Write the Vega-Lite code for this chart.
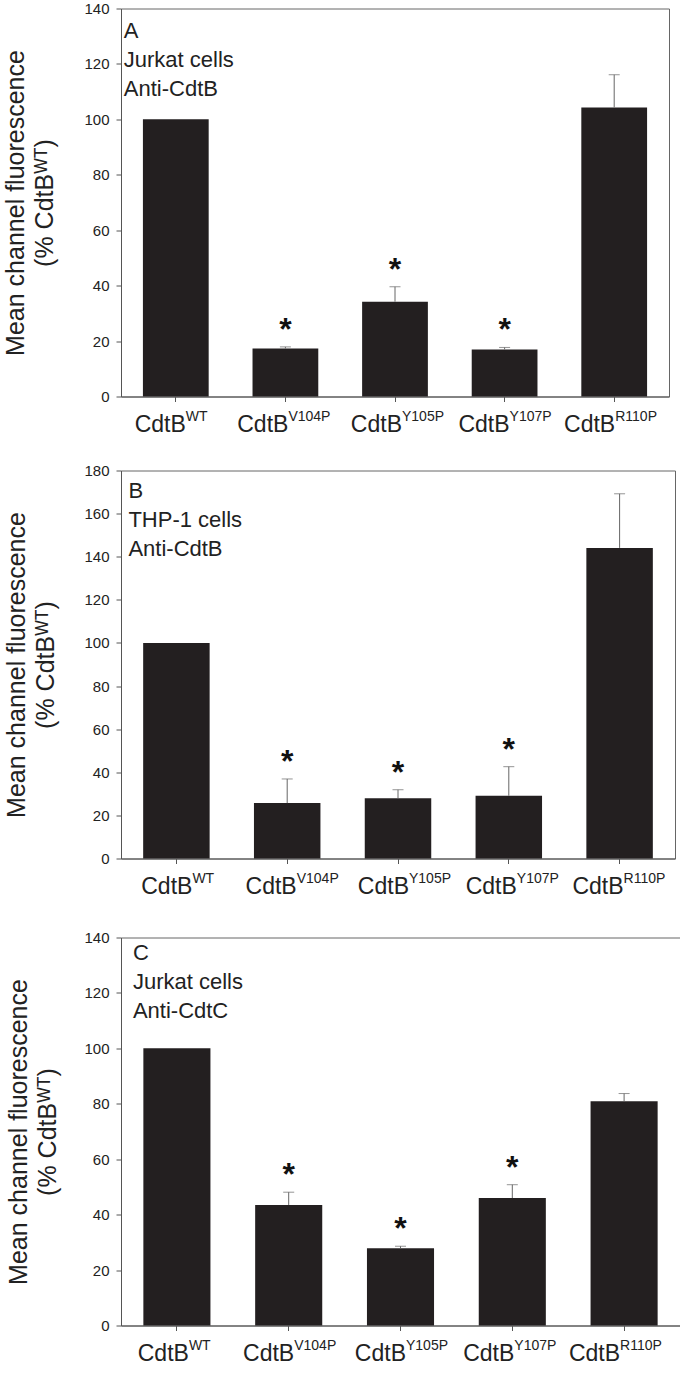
{
  "$schema": "https://vega.github.io/schema/vega-lite/v6.json",
  "padding": {"left": 2, "top": 0.5, "right": 0, "bottom": 0},
  "background": "white",
  "datasets": {
    "bars": [
      {"panel": "A", "protein": "CdtB", "mutant": "WT", "mean": 100, "upper": null, "sig": false},
      {"panel": "A", "protein": "CdtB", "mutant": "V104P", "mean": 17.3, "upper": 17.9, "sig": true},
      {"panel": "A", "protein": "CdtB", "mutant": "Y105P", "mean": 34.2, "upper": 39.6, "sig": true},
      {"panel": "A", "protein": "CdtB", "mutant": "Y107P", "mean": 17.0, "upper": 17.7, "sig": true},
      {"panel": "A", "protein": "CdtB", "mutant": "R110P", "mean": 104.3, "upper": 116.1, "sig": false},
      {"panel": "B", "protein": "CdtB", "mutant": "WT", "mean": 100, "upper": null, "sig": false},
      {"panel": "B", "protein": "CdtB", "mutant": "V104P", "mean": 25.7, "upper": 36.9, "sig": true},
      {"panel": "B", "protein": "CdtB", "mutant": "Y105P", "mean": 28.0, "upper": 31.9, "sig": true},
      {"panel": "B", "protein": "CdtB", "mutant": "Y107P", "mean": 29.1, "upper": 42.6, "sig": true},
      {"panel": "B", "protein": "CdtB", "mutant": "R110P", "mean": 144.1, "upper": 169.2, "sig": false},
      {"panel": "C", "protein": "CdtB", "mutant": "WT", "mean": 100, "upper": null, "sig": false},
      {"panel": "C", "protein": "CdtB", "mutant": "V104P", "mean": 43.5, "upper": 48.1, "sig": true},
      {"panel": "C", "protein": "CdtB", "mutant": "Y105P", "mean": 27.9, "upper": 28.6, "sig": true},
      {"panel": "C", "protein": "CdtB", "mutant": "Y107P", "mean": 46.0, "upper": 50.8, "sig": true},
      {"panel": "C", "protein": "CdtB", "mutant": "R110P", "mean": 80.9, "upper": 83.7, "sig": false}
    ]
  },
  "spacing": 25,
  "vconcat": [
    {
      "width": 548, "height": 388,
      "encoding": {"x": {"field": "mutant", "type": "nominal", "scale": {"domain": ["WT", "V104P", "Y105P", "Y107P", "R110P"], "paddingInner": 0.4, "paddingOuter": 0.2}, "axis": {"labels": false, "title": null}}},
      "layer": [
        {"data": {"name": "bars"}, "transform": [{"filter": "datum.panel === 'A'"}],
         "mark": {"type": "bar", "color": "#231f20"},
         "encoding": {"y": {"field": "mean", "type": "quantitative", "scale": {"domain": [0, 140], "nice": false}, "axis": {"values": [0, 20, 40, 60, 80, 100, 120, 140], "title": ["Mean channel fluorescence", "(% CdtBᵂᵀ)"], "titlePadding": 26.5}}}},
        {"data": {"name": "bars"}, "transform": [{"filter": "datum.panel === 'A' && datum.upper != null"}],
         "mark": {"type": "rule", "color": "#666", "strokeWidth": 1},
         "encoding": {"y": {"field": "mean", "type": "quantitative"}, "y2": {"field": "upper"}}},
        {"data": {"name": "bars"}, "transform": [{"filter": "datum.panel === 'A' && datum.upper != null"}],
         "mark": {"type": "tick", "color": "#666", "thickness": 1, "size": 11},
         "encoding": {"y": {"field": "upper", "type": "quantitative"}}},
        {"data": {"name": "bars"}, "transform": [{"filter": "datum.panel === 'A' && datum.sig"}],
         "mark": {"type": "text", "text": "*", "fontSize": 32, "fontWeight": "bold", "baseline": "middle", "dy": -17, "color": "#111"},
         "encoding": {"y": {"field": "upper", "type": "quantitative"}}},
        {"data": {"name": "bars"}, "transform": [{"filter": "datum.panel === 'A'"}],
         "mark": {"type": "text", "align": "right", "baseline": "alphabetic", "fontSize": 23, "dy": 35, "color": "#222", "dx": {"expr": "datum.mutant === 'WT' ? 10 : datum.mutant === 'V104P' ? 3 : datum.mutant === 'Y105P' ? 7 : datum.mutant === 'Y107P' ? 5 : 1"}},
         "encoding": {"y": {"datum": 0, "type": "quantitative"}, "text": {"field": "protein"}}},
        {"data": {"name": "bars"}, "transform": [{"filter": "datum.panel === 'A'"}],
         "mark": {"type": "text", "align": "left", "baseline": "alphabetic", "fontSize": 14, "dy": 24, "color": "#222", "dx": {"expr": "datum.mutant === 'WT' ? 10 : datum.mutant === 'V104P' ? 3 : datum.mutant === 'Y105P' ? 7 : datum.mutant === 'Y107P' ? 5 : 1"}},
         "encoding": {"y": {"datum": 0, "type": "quantitative"}, "text": {"field": "mutant"}}},
        {"data": {"values": [{"panel": "A"}]},
         "mark": {"type": "text", "text": ["A", "Jurkat cells", "Anti-CdtB"], "align": "left", "baseline": "alphabetic", "fontSize": 22, "lineHeight": 29.3, "dx": -52, "dy": 29, "color": "#222"},
         "encoding": {"x": {"datum": "WT", "type": "nominal"}, "y": {"datum": 140, "type": "quantitative"}}}
      ]
    },
    {
      "spacing": 30,
      "vconcat": [
        {
          "width": 554, "height": 388,
          "encoding": {"x": {"field": "mutant", "type": "nominal", "scale": {"domain": ["WT", "V104P", "Y105P", "Y107P", "R110P"], "paddingInner": 0.4, "paddingOuter": 0.2}, "axis": {"labels": false, "title": null}}},
          "layer": [
            {"data": {"name": "bars"}, "transform": [{"filter": "datum.panel === 'B'"}],
             "mark": {"type": "bar", "color": "#231f20"},
             "encoding": {"y": {"field": "mean", "type": "quantitative", "scale": {"domain": [0, 180], "nice": false}, "axis": {"values": [0, 20, 40, 60, 80, 100, 120, 140, 160, 180], "title": ["Mean channel fluorescence", "(% CdtBᵂᵀ)"], "titlePadding": 25.5}}}},
            {"data": {"name": "bars"}, "transform": [{"filter": "datum.panel === 'B' && datum.upper != null"}],
             "mark": {"type": "rule", "color": "#666", "strokeWidth": 1},
             "encoding": {"y": {"field": "mean", "type": "quantitative"}, "y2": {"field": "upper"}}},
            {"data": {"name": "bars"}, "transform": [{"filter": "datum.panel === 'B' && datum.upper != null"}],
             "mark": {"type": "tick", "color": "#666", "thickness": 1, "size": 11},
             "encoding": {"y": {"field": "upper", "type": "quantitative"}}},
            {"data": {"name": "bars"}, "transform": [{"filter": "datum.panel === 'B' && datum.sig"}],
             "mark": {"type": "text", "text": "*", "fontSize": 32, "fontWeight": "bold", "baseline": "middle", "dy": -17, "color": "#111"},
             "encoding": {"y": {"field": "upper", "type": "quantitative"}}},
            {"data": {"name": "bars"}, "transform": [{"filter": "datum.panel === 'B'"}],
             "mark": {"type": "text", "align": "right", "baseline": "alphabetic", "fontSize": 23, "dy": 35, "color": "#222", "dx": {"expr": "datum.mutant === 'WT' ? 16 : datum.mutant === 'V104P' ? 9.5 : datum.mutant === 'Y105P' ? 11 : datum.mutant === 'Y107P' ? 8 : 4"}},
             "encoding": {"y": {"datum": 0, "type": "quantitative"}, "text": {"field": "protein"}}},
            {"data": {"name": "bars"}, "transform": [{"filter": "datum.panel === 'B'"}],
             "mark": {"type": "text", "align": "left", "baseline": "alphabetic", "fontSize": 14, "dy": 24, "color": "#222", "dx": {"expr": "datum.mutant === 'WT' ? 16 : datum.mutant === 'V104P' ? 9.5 : datum.mutant === 'Y105P' ? 11 : datum.mutant === 'Y107P' ? 8 : 4"}},
             "encoding": {"y": {"datum": 0, "type": "quantitative"}, "text": {"field": "mutant"}}},
            {"data": {"values": [{"panel": "B"}]},
             "mark": {"type": "text", "text": ["B", "THP-1 cells", "Anti-CdtB"], "align": "left", "baseline": "alphabetic", "fontSize": 22, "lineHeight": 29.3, "dx": -48, "dy": 27, "color": "#222"},
             "encoding": {"x": {"datum": "WT", "type": "nominal"}, "y": {"datum": 180, "type": "quantitative"}}}
          ]
        },
        {
          "width": 559, "height": 388,
          "encoding": {"x": {"field": "mutant", "type": "nominal", "scale": {"domain": ["WT", "V104P", "Y105P", "Y107P", "R110P"], "paddingInner": 0.4, "paddingOuter": 0.2}, "axis": {"labels": false, "title": null}}},
          "layer": [
            {"data": {"name": "bars"}, "transform": [{"filter": "datum.panel === 'C'"}],
             "mark": {"type": "bar", "color": "#231f20"},
             "encoding": {"y": {"field": "mean", "type": "quantitative", "scale": {"domain": [0, 140], "nice": false}, "axis": {"values": [0, 20, 40, 60, 80, 100, 120, 140], "title": ["Mean channel fluorescence", "(% CdtBᵂᵀ)"], "titlePadding": 23.5}}}},
            {"data": {"name": "bars"}, "transform": [{"filter": "datum.panel === 'C' && datum.upper != null"}],
             "mark": {"type": "rule", "color": "#666", "strokeWidth": 1},
             "encoding": {"y": {"field": "mean", "type": "quantitative"}, "y2": {"field": "upper"}}},
            {"data": {"name": "bars"}, "transform": [{"filter": "datum.panel === 'C' && datum.upper != null"}],
             "mark": {"type": "tick", "color": "#666", "thickness": 1, "size": 11},
             "encoding": {"y": {"field": "upper", "type": "quantitative"}}},
            {"data": {"name": "bars"}, "transform": [{"filter": "datum.panel === 'C' && datum.sig"}],
             "mark": {"type": "text", "text": "*", "fontSize": 32, "fontWeight": "bold", "baseline": "middle", "dy": -17, "color": "#111"},
             "encoding": {"y": {"field": "upper", "type": "quantitative"}}},
            {"data": {"name": "bars"}, "transform": [{"filter": "datum.panel === 'C'"}],
             "mark": {"type": "text", "align": "right", "baseline": "alphabetic", "fontSize": 23, "dy": 35, "color": "#222", "dx": {"expr": "datum.mutant === 'WT' ? 12 : datum.mutant === 'V104P' ? 5.5 : datum.mutant === 'Y105P' ? 5.5 : datum.mutant === 'Y107P' ? 2 : -4"}},
             "encoding": {"y": {"datum": 0, "type": "quantitative"}, "text": {"field": "protein"}}},
            {"data": {"name": "bars"}, "transform": [{"filter": "datum.panel === 'C'"}],
             "mark": {"type": "text", "align": "left", "baseline": "alphabetic", "fontSize": 14, "dy": 24, "color": "#222", "dx": {"expr": "datum.mutant === 'WT' ? 12 : datum.mutant === 'V104P' ? 5.5 : datum.mutant === 'Y105P' ? 5.5 : datum.mutant === 'Y107P' ? 2 : -4"}},
             "encoding": {"y": {"datum": 0, "type": "quantitative"}, "text": {"field": "mutant"}}},
            {"data": {"values": [{"panel": "C"}]},
             "mark": {"type": "text", "text": ["C", "Jurkat cells", "Anti-CdtC"], "align": "left", "baseline": "alphabetic", "fontSize": 22, "lineHeight": 29.3, "dx": -44, "dy": 22, "color": "#222"},
             "encoding": {"x": {"datum": "WT", "type": "nominal"}, "y": {"datum": 140, "type": "quantitative"}}}
          ]
        }
      ]
    }
  ],
  "config": {
    "font": "Liberation Sans",
    "view": {"stroke": "#666", "strokeWidth": 1},
    "text": {"font": "Liberation Sans"},
    "axis": {
      "grid": false,
      "domainColor": "#555",
      "tickColor": "#555",
      "tickSize": 5,
      "labelFont": "Liberation Sans",
      "labelFontSize": 15,
      "labelColor": "#222",
      "labelPadding": 7,
      "titleFont": "Liberation Sans, DejaVu Sans",
      "titleFontSize": 25,
      "titleFontWeight": "normal",
      "titleColor": "#222",
      "titleLineHeight": 29
    }
  }
}
